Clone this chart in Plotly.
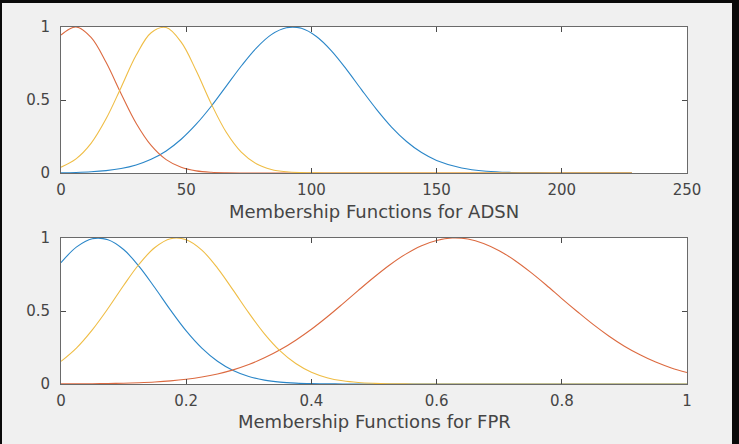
import plotly.graph_objects as go

# ---------- data ----------
adsn_x = [0, 6, 12, 18, 24, 30, 36, 42, 48, 54, 60, 66, 72, 78, 84, 90, 96, 102,
          108, 114, 120, 126, 132, 138, 144, 150, 160, 170, 180, 190, 200, 210, 220, 228]
adsn_blue = [0.0018, 0.0039, 0.0082, 0.0164, 0.0309, 0.0554, 0.094, 0.151, 0.231, 0.334,
             0.457, 0.595, 0.733, 0.856, 0.948, 0.995, 0.991, 0.935, 0.837, 0.710, 0.571,
             0.436, 0.315, 0.216, 0.140, 0.0864, 0.0342, 0.0117, 0.0034, 0.0009, 0.0002, 0, 0, 0]
adsn_red = [0.945, 1.0, 0.929, 0.758, 0.543, 0.341, 0.189, 0.0915, 0.039, 0.0146, 0.0048,
            0.0014, 0.0003, 0.0001, 0, 0, 0, 0, 0, 0, 0, 0, 0, 0, 0, 0, 0, 0, 0, 0, 0, 0, 0, 0]
adsn_yellow = [0.0401, 0.0969, 0.203, 0.371, 0.586, 0.806, 0.961, 0.996, 0.896, 0.700, 0.474,
               0.279, 0.143, 0.0635, 0.0245, 0.0082, 0.0024, 0.0006, 0.0001, 0, 0, 0, 0, 0, 0,
               0, 0, 0, 0, 0, 0, 0, 0, 0]

fpr_x = [0, 0.025, 0.05, 0.075, 0.1, 0.125, 0.15, 0.175, 0.2, 0.225, 0.25, 0.275, 0.3, 0.325,
         0.35, 0.375, 0.4, 0.425, 0.45, 0.475, 0.5, 0.525, 0.55, 0.575, 0.6, 0.625, 0.65, 0.675,
         0.7, 0.725, 0.75, 0.775, 0.8, 0.825, 0.85, 0.875, 0.9, 0.925, 0.95, 0.975, 1.0]
fpr_blue = [0.831, 0.939, 0.995, 0.988, 0.921, 0.804, 0.659, 0.506, 0.364, 0.246, 0.156, 0.0923,
            0.0514, 0.0268, 0.0131, 0.006, 0.0026, 0.001, 0.0004, 0.0001, 0, 0, 0, 0, 0, 0, 0, 0,
            0, 0, 0, 0, 0, 0, 0, 0, 0, 0, 0, 0, 0]
fpr_yellow = [0.155, 0.248, 0.371, 0.517, 0.675, 0.822, 0.935, 0.995, 0.988, 0.917, 0.794, 0.643,
              0.487, 0.344, 0.227, 0.140, 0.0806, 0.0434, 0.0218, 0.0102, 0.0045, 0.0018, 0.0007,
              0.0003, 0.0001, 0, 0, 0, 0, 0, 0, 0, 0, 0, 0, 0, 0, 0, 0, 0, 0]
fpr_red = [0.0006, 0.0011, 0.002, 0.0033, 0.0055, 0.0089, 0.014, 0.0216, 0.0326, 0.048, 0.069,
           0.0969, 0.133, 0.179, 0.234, 0.300, 0.375, 0.459, 0.549, 0.641, 0.731, 0.815, 0.888,
           0.946, 0.983, 1.0, 0.993, 0.963, 0.913, 0.846, 0.766, 0.678, 0.585, 0.495, 0.408,
           0.329, 0.259, 0.200, 0.150, 0.110, 0.079]

adsn_ticks = [0, 50, 100, 150, 200, 250]
fpr_ticks = [0, 0.2, 0.4, 0.6, 0.8, 1]
fpr_ticktext = ["0", "0.2", "0.4", "0.6", "0.8", "1"]
y_ticks = [0, 0.5, 1]
y_ticktext = ["0", "0.5", "1"]
label_top = "Membership Functions for ADSN"
label_bottom = "Membership Functions for FPR"

BLUE = "#2a86c8"
RED = "#dc6a40"
YELLOW = "#efbd45"

W, H = 739, 444
fig = go.Figure()

def add(x, y, color, xa, ya):
    fig.add_trace(go.Scatter(x=x, y=y, mode="lines", line=dict(color=color, width=1.1, shape="spline"),
                             xaxis=xa, yaxis=ya, showlegend=False, hoverinfo="skip"))

add(adsn_x, adsn_blue, BLUE, "x", "y")
add(adsn_x, adsn_red, RED, "x", "y")
add(adsn_x, adsn_yellow, YELLOW, "x", "y")
add(fpr_x, fpr_blue, BLUE, "x2", "y2")
add(fpr_x, fpr_red, RED, "x2", "y2")
add(fpr_x, fpr_yellow, YELLOW, "x2", "y2")

xd = [61 / W, 687 / W]
top_d = [(H - 173) / H, (H - 27) / H]
bot_d = [(H - 384) / H, (H - 238) / H]

axis_common = dict(showline=True, linecolor="#6a6a6a", linewidth=1, mirror="allticks",
                   ticks="inside", ticklen=5, tickcolor="#4a4a4a", tickwidth=1,
                   showgrid=False, zeroline=False, automargin=False,
                   tickfont=dict(family="DejaVu Sans", size=15, color="#454545"))
x_common = dict(axis_common, ticklabelstandoff=3)
y_common = dict(axis_common, ticklabelstandoff=7)

border = "#0a0a0a"
fig.update_layout(
    width=W, height=H,
    margin=dict(l=0, r=0, t=0, b=0),
    paper_bgcolor="#f0f0f0",
    plot_bgcolor="#ffffff",
    xaxis=dict(domain=xd, anchor="y", range=[0, 250], tickvals=adsn_ticks, **x_common),
    yaxis=dict(domain=top_d, anchor="x", range=[0, 1], tickvals=y_ticks, ticktext=y_ticktext, **y_common),
    xaxis2=dict(domain=xd, anchor="y2", range=[0, 1], tickvals=fpr_ticks, ticktext=fpr_ticktext, **x_common),
    yaxis2=dict(domain=bot_d, anchor="x2", range=[0, 1], tickvals=y_ticks, ticktext=y_ticktext, **y_common),
    shapes=[
        dict(type="rect", xref="paper", yref="paper", x0=0, x1=2 / W, y0=0, y1=1,
             fillcolor=border, line=dict(width=0), layer="above"),
        dict(type="rect", xref="paper", yref="paper", x0=0, x1=1, y0=(H - 3) / H, y1=1,
             fillcolor=border, line=dict(width=0), layer="above"),
        dict(type="rect", xref="paper", yref="paper", x0=732 / W, x1=1, y0=0, y1=1,
             fillcolor=border, line=dict(width=0), layer="above"),
    ],
    annotations=[
        dict(text=label_top, xref="paper", yref="paper", x=374 / W, y=(H - 211) / H,
             xanchor="center", yanchor="middle", showarrow=False,
             font=dict(family="DejaVu Sans", size=18, color="#454545")),
        dict(text=label_bottom, xref="paper", yref="paper", x=374 / W, y=(H - 421) / H,
             xanchor="center", yanchor="middle", showarrow=False,
             font=dict(family="DejaVu Sans", size=18, color="#454545")),
    ],
)

fig.write_html("out.html")
